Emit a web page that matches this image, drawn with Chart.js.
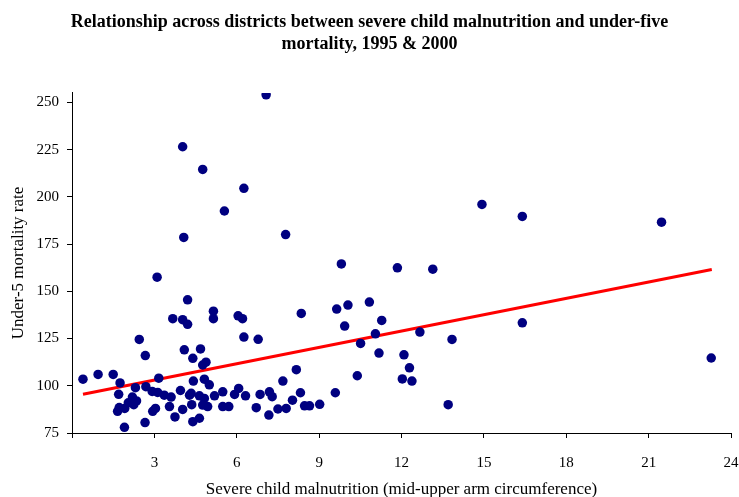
<!DOCTYPE html>
<html>
<head>
<meta charset="utf-8">
<script src="https://cdn.jsdelivr.net/npm/chart.js@4/dist/chart.umd.min.js"></script>
<style>
    html, body { margin: 0; padding: 0; background: #fff; }
    #wrap { width: 739px; height: 497px; }
</style>
</head>
<body>
<div id="wrap"><canvas id="chart"></canvas></div>
<script>
// severe child malnutrition (%), per district
const malnutrition = [
    0.4, 0.95, 1.5, 1.75, 1.7, 1.72, 1.66, 1.92, 1.91, 2.2,
    2.35, 2.25, 2.05, 2.31, 2.45, 2.67, 2.69, 2.66, 2.92, 2.94,
    3.04, 3.12, 3.1, 3.16, 3.36, 3.55, 3.61, 3.67, 3.75, 3.95,
    4.03, 4.07, 4.03, 4.03, 4.09, 4.21, 4.21, 4.28, 4.34, 4.36,
    4.4, 4.4, 4.42, 4.64, 4.64, 4.68, 4.76, 4.76, 4.76, 4.82,
    4.82, 4.88, 4.94, 5.0, 5.15, 5.15, 5.19, 5.49, 5.49, 5.55,
    5.71, 5.92, 6.07, 6.05, 6.21, 6.26, 6.26, 6.32, 6.71, 6.78,
    6.85, 7.07, 7.17, 7.19, 7.29, 7.5, 7.68, 7.78, 7.8, 8.03,
    8.17, 8.32, 8.35, 8.47, 8.65, 9.02, 9.59, 9.64, 9.81, 9.93,
    10.05, 10.39, 10.51, 10.83, 11.05, 11.18, 11.28, 11.85, 12.03, 12.09,
    12.29, 12.38, 12.67, 13.14, 13.7, 13.84, 14.93, 16.4, 16.4, 21.47,
    23.28
];
// under-5 mortality rate, same districts
const mortality = [
    103.5, 106, 106, 101.5, 95.5, 88.5, 86.5, 88, 78, 94,
    92, 90, 91, 99, 124.5, 116, 99.5, 80.5, 97, 86.5,
    88, 96.5, 157.5, 104, 95, 89, 94, 135.5, 83.5, 97.5,
    226.5, 178.5, 135, 87.5, 119, 145.5, 132.5, 95, 96, 90,
    114.5, 81, 102.5, 94.7, 82.8, 119.5, 214.5, 111, 89.8, 103.5,
    93.3, 112.5, 89, 100.5, 139.5, 135.5, 94.7, 96.8, 89, 192.5,
    89, 95.4, 98.6, 137, 135.5, 204.5, 125.8, 94.7, 88.4, 124.6,
    95.4, 254, 84.5, 96.8, 94.2, 87.7, 102.5, 180, 88, 92.4,
    108.5, 96.3, 138.3, 89.4, 89.4, 90.2, 96.3, 140.6, 164.5, 131.6,
    142.7, 105.3, 122.4, 144.3, 127.5, 117.3, 134.6, 162.4, 103.6, 116.4,
    109.5, 102.5, 128.4, 161.7, 90, 124.5, 196, 189.6, 133.3, 186.6,
    114.7
];
// fitted line end points as drawn
const trendX = [0.4, 23.3];
const trendY = [95.5, 161.5];

const xTicks = [0, 3, 6, 9, 12, 15, 18, 21, 24];
const yTicks = [75, 100, 125, 150, 175, 200, 225, 250];

const serif = 'Liberation Serif, Times New Roman, serif';

const points = malnutrition.map((x, i) => ({ x: x, y: mortality[i] }));
const trend = trendX.map((x, i) => ({ x: x, y: trendY[i] }));

new Chart(document.getElementById('chart'), {
    type: 'scatter',
    data: {
        datasets: [
            {
                label: 'Districts',
                data: points,
                backgroundColor: '#000080',
                borderColor: '#000080',
                pointRadius: 4.75,
                pointHoverRadius: 4.75,
                borderWidth: 0
            },
            {
                label: 'Trend',
                type: 'line',
                data: trend,
                borderColor: '#ff0000',
                borderWidth: 3,
                pointRadius: 0,
                fill: false
            }
        ]
    },
    options: {
        responsive: true,
        maintainAspectRatio: false,
        animation: false,
        layout: {
            padding: { left: 0, right: 0, top: 0, bottom: 0 }
        },
        plugins: {
            legend: { display: false },
            tooltip: { enabled: false },
            title: {
                display: true,
                text: ['Relationship across districts between severe child malnutrition and under-five', 'mortality, 1995 & 2000'],
                color: '#000',
                font: { family: serif, size: 18, weight: 'bold', lineHeight: 1.22 },
                padding: { top: 11, bottom: 38 }
            }
        },
        scales: {
            x: {
                type: 'linear',
                min: 0,
                max: 24,
                afterBuildTicks: (axis) => {
                    axis.ticks = xTicks.map(v => ({ value: v }));
                },
                afterFit: (axis) => {
                    axis.height = 64;
                    axis.paddingLeft = 0;
                    axis.paddingRight = 8;
                },
                ticks: {
                    color: '#000',
                    padding: 16,
                    font: { family: serif, size: 15 },
                    callback: (v) => v === 0 ? '' : v
                },
                grid: {
                    drawOnChartArea: false,
                    drawTicks: true,
                    tickLength: 5,
                    color: '#000'
                },
                border: { display: true, color: '#000', width: 1 },
                title: {
                    display: true,
                    text: 'Severe child malnutrition (mid-upper arm circumference)',
                    color: '#000',
                    font: { family: serif, size: 17 },
                    padding: { top: 4, bottom: -3 }
                }
            },
            y: {
                type: 'linear',
                min: 75,
                max: 255,
                afterBuildTicks: (axis) => {
                    axis.ticks = yTicks.map(v => ({ value: v }));
                },
                afterFit: (axis) => {
                    axis.width = 72;
                },
                ticks: {
                    color: '#000',
                    padding: 8,
                    font: { family: serif, size: 15 }
                },
                grid: {
                    drawOnChartArea: false,
                    drawTicks: true,
                    tickLength: 5,
                    color: '#000'
                },
                border: { display: true, color: '#000', width: 1 },
                title: {
                    display: true,
                    text: 'Under-5 mortality rate',
                    color: '#000',
                    font: { family: serif, size: 17 },
                    padding: { top: 8, bottom: 4 }
                }
            }
        }
    }
});
</script>
</body>
</html>
